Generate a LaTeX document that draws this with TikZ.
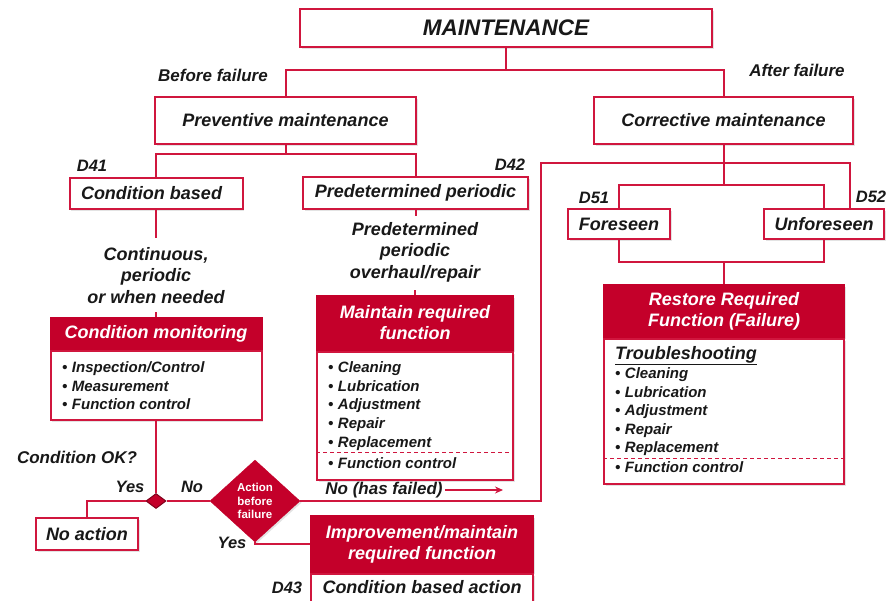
\documentclass[tikz,border=0pt]{standalone}
\usepackage{fontspec}
\setmainfont{Liberation Sans}
\usetikzlibrary{shapes.geometric,shadows,arrows.meta}

\definecolor{lc}{RGB}{208,22,62}
\definecolor{hf}{RGB}{196,0,42}
\definecolor{tx}{RGB}{24,24,24}

% bold italic text at a given size and leading
\newcommand{\fsz}[2]{\bfseries\itshape\fontsize{#1}{#2}\selectfont}

\tikzset{
  box/.style={draw=lc, line width=2pt, fill=white, inner sep=0pt,
    drop shadow={opacity=0.22, shadow xshift=1.6pt, shadow yshift=-1.6pt},
    font=\fsz{18}{21}, text=tx, align=center},
  hdr/.style={box, fill=hf, draw=hf, text=white},
  bodybox/.style={box, anchor=north},
  lbl/.style={inner sep=0pt, font=\fsz{17}{21.5}, text=tx, align=center},
  tag/.style={inner sep=0pt, font=\fsz{16.5}{20}, text=tx},
  itm/.style={anchor=base west, inner sep=0pt, font=\fsz{15}{18}, text=tx},
  link/.style={draw=lc, line width=2pt},
  sep/.style={draw=lc, line width=1pt, dash pattern=on 4pt off 3pt},
}

\newcommand{\bul}[1]{\textbullet\hspace{4.5pt}#1}

\begin{document}
\begin{tikzpicture}[x=1pt,y=-1pt]
\useasboundingbox (0,0) rectangle (890,600);
\clip (0,0) rectangle (890,600);

% ---------- top levels ----------
\node[box, font=\fsz{22.5}{26}, minimum width=412pt, minimum height=38pt] (mnt) at (506,28) {MAINTENANCE};
\node[box, minimum width=261pt, minimum height=47pt] (prev) at (285.5,120.5) {Preventive maintenance};
\node[box, minimum width=259pt, minimum height=47pt] (corr) at (723.5,120.5) {Corrective maintenance};
\node[lbl] (bf) at (213,75) {Before failure};
\node[lbl] (af) at (797,70) {After failure};

% ---------- preventive branch ----------
\node[box, minimum width=173pt, minimum height=31pt] (cb) at (156,193.5) {Condition based\hspace{9pt}};
\node[box, minimum width=225pt, minimum height=32pt] (pp) at (415.5,193) {Predetermined periodic};
\node[tag] (d41) at (92,166) {D41};
\node[tag] (d42) at (510,165) {D42};

\node[lbl, font=\fsz{18}{21.5}] (cont) at (156,275.5) {Continuous,\\periodic\\or when needed};
\node[lbl, font=\fsz{18}{21.5}] (ppo) at (415,252) {Predetermined\\periodic\\overhaul/repair};

% condition monitoring
\node[hdr, minimum width=211pt, minimum height=31pt] (cmh) at (156,333.5) {Condition monitoring};
\node[bodybox, minimum width=211pt, minimum height=69pt] (cmb) at (cmh.south) {};
\node[itm] (cm1) at (62,372.5) {\bul{Inspection/Control}};
\node[itm] (cm2) at (62,391) {\bul{Measurement}};
\node[itm] (cm3) at (62,409.5) {\bul{Function control}};

% maintain required function
\node[hdr, minimum width=196pt, minimum height=54pt] (mh) at (415,323) {Maintain required\\function};
\node[bodybox, minimum width=196pt, minimum height=128pt] (mb) at (mh.south) {};
\node[itm] (m1) at (328,372.5) {\bul{Cleaning}};
\node[itm] (m2) at (328,391) {\bul{Lubrication}};
\node[itm] (m3) at (328,409.5) {\bul{Adjustment}};
\node[itm] (m4) at (328,428) {\bul{Repair}};
\node[itm] (m5) at (328,447) {\bul{Replacement}};
\node[itm] (m6) at (328,468.5) {\bul{Function control}};

% decisions
\node[lbl] (cok) at (77,457) {Condition OK?};
\node[diamond, fill=hf, draw=hf!65!black, line width=1pt, inner sep=0pt,
      minimum width=20pt, minimum height=15pt] (sd) at (156,501) {};
\node[tag] (yes1) at (130,487) {Yes};
\node[tag] (no1) at (192,487) {No};
\node[box, minimum width=102pt, minimum height=32pt] (na) at (87,534) {No action};

\node[diamond, fill=hf, draw=hf, inner sep=0pt, minimum width=90pt, minimum height=82pt,
      text=white, font=\bfseries\fontsize{11.5}{13.5}\selectfont, align=center,
      drop shadow={opacity=0.22, shadow xshift=1.6pt, shadow yshift=-1.6pt}] (bd) at (255,501) {Action\\before\\failure};
\node[tag] (yes2) at (232,543) {Yes};
\node[lbl] (nf) at (384,490) {No (has failed)};
\coordinate (nfend) at (503,490);

\node[hdr, minimum width=222pt, minimum height=56pt] (imh) at (422,544) {Improvement/maintain\\required function};
\node[bodybox, minimum width=222pt, minimum height=44pt] (imb) at (imh.south) {};
\node[inner sep=0pt, font=\fsz{18}{21}, text=tx] (cba) at (422,587) {Condition based action};
\node[tag] (d43) at (287,588) {D43};

% ---------- corrective branch ----------
\node[box, minimum width=102pt, minimum height=30pt] (fs) at (619,224) {Foreseen};
\node[box, minimum width=120pt, minimum height=30pt] (uf) at (824,224) {Unforeseen};
\node[tag] (d51) at (594,198) {D51};
\node[tag] (d52) at (871,197) {D52};

\node[hdr, minimum width=240pt, minimum height=52pt] (rh) at (724,311) {Restore Required\\Function (Failure)};
\node[bodybox, minimum width=240pt, minimum height=145pt] (rb) at (rh.south) {};
\node[itm, font=\fsz{18}{21}] (ts) at (615,359.5) {\underline{Troubleshooting}};
\node[itm] (r1) at (615,378.5) {\bul{Cleaning}};
\node[itm] (r2) at (615,397) {\bul{Lubrication}};
\node[itm] (r3) at (615,415.5) {\bul{Adjustment}};
\node[itm] (r4) at (615,434) {\bul{Repair}};
\node[itm] (r5) at (615,452.5) {\bul{Replacement}};
\node[itm] (r6) at (615,472) {\bul{Function control}};

% dashed separators above "Function control"
\coordinate (dl1) at (0,452);
\coordinate (dl2) at (0,458);
\draw[sep] (mb.west |- dl1) -- (mb.east |- dl1);
\draw[sep] (rb.west |- dl2) -- (rb.east |- dl2);

% ---------- connectors ----------
\coordinate (lvl1) at (0,70);
\coordinate (lvl2) at (0,154);
\coordinate (lvl3) at (0,185);
\coordinate (lvl4) at (0,262);
\coordinate (fail1) at (541,163);
\coordinate (fail2) at (850,163);

\draw[link] (mnt.south) -- (mnt.south |- lvl1);
\draw[link] (prev.north) -- (prev.north |- lvl1) -- (corr.north |- lvl1) -- (corr.north);

\draw[link] (prev.south) -- (prev.south |- lvl2);
\draw[link] (cb.north) -- (cb.north |- lvl2) -- (pp.north |- lvl2) -- (pp.north);

\draw[link] (cb.south) -- ++(0,28);
\draw[link] (cmh.north) -- ++(0,-5);
\draw[link] (pp.south) -- ++(0,6);
\draw[link] (mh.north) -- ++(0,-5);

\draw[link] (cmb.south) -- (sd.north);
\draw[link] (sd.west) -| (na.north);
\draw[link] (sd.east) -- (bd.west);
\draw[link] (bd.east) -- (bd.east -| fail1) -- (fail1) -- (fail2) -- (uf.north -| fail2);
\draw[link] (bd.south) |- (imh.west);
\draw[draw=lc, line width=1.8pt, -{Stealth[length=8pt,width=7pt]}, shorten <=2pt] (nf.east) -- (nfend);

\draw[link] (corr.south) -- (corr.south |- lvl3);
\draw[link] (fs.north) -- (fs.north |- lvl3) -- (uf.north |- lvl3) -- (uf.north);
\draw[link] (fs.south) -- (fs.south |- lvl4) -- (uf.south |- lvl4) -- (uf.south);
\draw[link] (rh.north) -- (rh.north |- lvl4);
\end{tikzpicture}
\end{document}
